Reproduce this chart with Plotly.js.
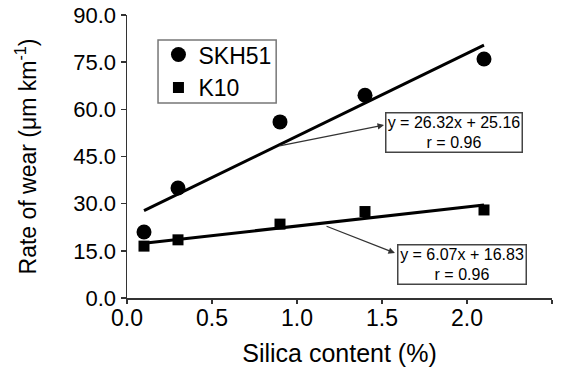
<!DOCTYPE html>
<html>
<head>
<meta charset="utf-8">
<script src="https://cdn.plot.ly/plotly-3.0.1.min.js"></script>
<style>html,body{margin:0;padding:0;background:#fff;}#chart{width:565px;height:376px;}</style>
</head>
<body>
<div id="chart"></div>
<script>
var silica = [0.1, 0.3, 0.9, 1.4, 2.1];
var skh51 = [21.0, 35.0, 56.0, 64.5, 76.0];
var k10 = [16.5, 18.5, 23.5, 27.5, 28.0];
var fitX = [0.1, 2.1];
var skh51Fit = [27.8, 80.4];
var k10Fit = [17.4, 29.6];
var eqSKH = "y = 26.32x + 25.16<br>r = 0.96";
var eqK10 = "y = 6.07x + 16.83<br>r = 0.96";
var xTicks = [0, 0.5, 1.0, 1.5, 2.0, 2.5];
var xTickText = ["0.0", "0.5", "1.0", "1.5", "2.0", "2.5"];
var yTicks = [0, 15, 30, 45, 60, 75, 90];
var yTickText = ["0.0", "15.0", "30.0", "45.0", "60.0", "75.0", "90.0"];

var FONT = "Liberation Sans, Arial, sans-serif";

var traces = [
  {x: fitX, y: skh51Fit, mode: "lines", line: {color: "#000", width: 3}, showlegend: false, hoverinfo: "skip"},
  {x: fitX, y: k10Fit, mode: "lines", line: {color: "#000", width: 3}, showlegend: false, hoverinfo: "skip"},
  {x: silica, y: skh51, mode: "markers", name: "SKH51", marker: {symbol: "circle", size: 15, color: "#000"}},
  {x: silica, y: k10, mode: "markers", name: "K10", marker: {symbol: "square", size: 11, color: "#000"}}
];

var layout = {
  width: 565, height: 376,
  margin: {l: 127, r: 13, t: 15, b: 78},
  paper_bgcolor: "#fff", plot_bgcolor: "#fff",
  font: {family: FONT, color: "#000"},
  showlegend: true,
  legend: {x: 0.074, y: 0.936, xanchor: "left", yanchor: "top",
    borderwidth: 0, bgcolor: "rgba(0,0,0,0)",
    font: {size: 23, family: FONT}, itemwidth: 30, tracegroupgap: 0},
  shapes: [
    {type: "rect", xref: "paper", yref: "paper", x0: 0.073, x1: 0.351, y0: 0.689, y1: 0.912,
     line: {color: "#777", width: 1.5}, fillcolor: "rgba(0,0,0,0)", layer: "below"}
  ],
  xaxis: {range: [0, 2.5], tickvals: xTicks, ticktext: xTickText,
    showgrid: false, zeroline: false, showline: true, linecolor: "#333", linewidth: 1.5,
    ticks: "outside", ticklen: 4, tickcolor: "#333", tickwidth: 1.5,
    ticklabelstandoff: -5,
    tickfont: {size: 23, family: FONT},
    title: {text: "Silica content (%)", font: {size: 25, family: FONT}, standoff: 14}},
  yaxis: {range: [0, 90], tickvals: yTicks, ticktext: yTickText,
    showgrid: false, zeroline: false, showline: true, linecolor: "#333", linewidth: 1.5,
    ticks: "outside", ticklen: 5, tickcolor: "#333", tickwidth: 1.5,
    tickfont: {size: 22, family: FONT},
    title: {text: "Rate of wear (\u03bcm km<sup>-1</sup>)", font: {size: 23, family: FONT}, standoff: 30}},
  annotations: [
    {x: 1.924, y: 52.5, xref: "x", yref: "y", text: eqSKH, showarrow: false,
     font: {size: 16, family: FONT, color: "#000"}, bgcolor: "#fff",
     bordercolor: "#444", borderwidth: 1.5, borderpad: 1, width: 133, height: 36},
    {x: 1.968, y: 10.8, xref: "x", yref: "y", text: eqK10, showarrow: false,
     font: {size: 16, family: FONT, color: "#000"}, bgcolor: "#fff",
     bordercolor: "#444", borderwidth: 1.5, borderpad: 1, width: 125, height: 36},
    {x: 1.512, y: 55.0, xref: "x", yref: "y", ax: 0.888, ay: 48.3, axref: "x", ayref: "y",
     text: "", showarrow: true, arrowhead: 2, arrowsize: 1, arrowwidth: 1.3, arrowcolor: "#333", standoff: 0},
    {x: 1.576, y: 14.3, xref: "x", yref: "y", ax: 1.165, ay: 23.0, axref: "x", ayref: "y",
     text: "", showarrow: true, arrowhead: 2, arrowsize: 1, arrowwidth: 1.3, arrowcolor: "#333", standoff: 0}
  ]
};

Plotly.newPlot("chart", traces, layout, {staticPlot: true, displayModeBar: false});
</script>
</body>
</html>
